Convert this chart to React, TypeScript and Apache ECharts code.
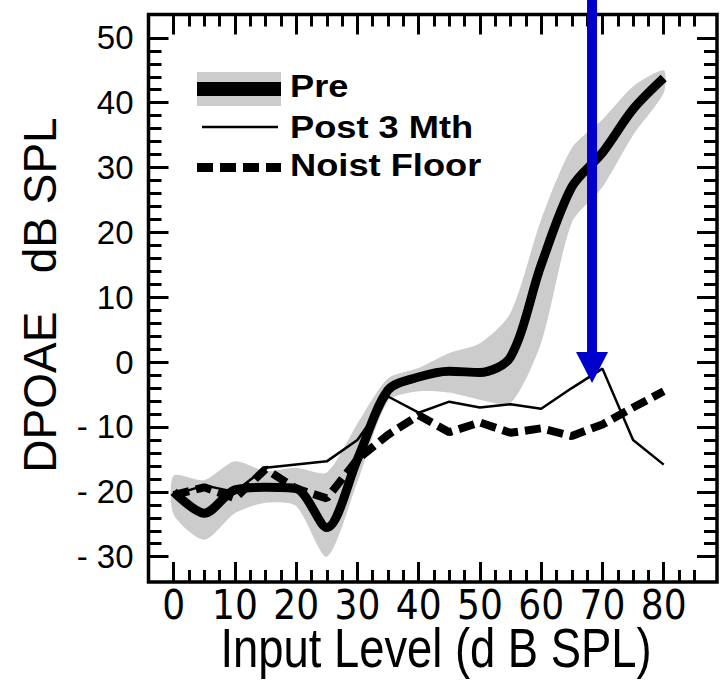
import React, { useEffect, useRef } from "react";
import * as echarts from "echarts";

// ---- data ----
const inputLevels = [0, 5, 10, 15, 20, 25, 30, 35, 40, 45, 50, 55, 60, 65, 70, 75, 80];
const preMean = [-20, -23.3, -19.7, -19.3, -19.5, -25.5, -15, -4.3, -2.3, -1.4, -1.6, 0.8, 15, 27, 32.3, 39, 43.8];
const preLow = [-23.5, -27.4, -23.3, -21.7, -22.2, -30, -18.5, -6, -4.5, -4.7, -5.8, -6.3, 3, 21.5, 27, 35, 41.5];
const preHigh = [-17.5, -18.2, -15.3, -16.8, -16.3, -17, -9.5, -2.5, -0.9, 1.4, 2.9, 7.6, 22, 33, 37.4, 42.5, 45];
const post3Mth = [-20.5, -19, -20, -16.3, -15.8, -15.3, -12, -5.3, -7.8, -6.1, -7, -6.5, -7.2, -4, -1, -12, -15.8];
const noiseFloor = [-20.5, -19.3, -21, -16.5, -19.5, -21, -15, -11.2, -8.2, -10.8, -9.3, -10.9, -10.2, -11.4, -9.6, -7, -4.5];

const xTickLabels = [0, 10, 20, 30, 40, 50, 60, 70, 80];
const yTickLabels = [-30, -20, -10, 0, 10, 20, 30, 40, 50];
const xMinorTicks = [2.5, 5, 7.5, 12.5, 15, 17.5, 22.5, 25, 27.5, 32.5, 35, 37.5, 42.5, 45, 47.5, 52.5, 55, 57.5, 62.5, 65, 67.5, 72.5, 75, 77.5, 82.5, 85];
const yMinorTicks = [-28, -26, -24, -22, -18, -16, -14, -12, -8, -6, -4, -2, 2, 4, 6, 8, 12, 14, 16, 18, 22, 24, 26, 28, 32, 34, 36, 38, 42, 44, 46, 48];

const legendNames = ["Pre", "Post 3 Mth", "Noist Floor"];
const xTitle = "Input Level (d B SPL)";
const yTitle = "DPOAE   dB SPL";

const ARROW_X = 68.3;
const ARROW_TIP_Y = -3.2;

const X_MIN = -4.1, X_MAX = 88.7, Y_MIN = -33.9, Y_MAX = 53.6;

const GRAY = "#cccccc";
const BLUE = "#0000cc";

function xAx(position: string, ticks: number[], len: number, labels?: number[]) {
  return {
    type: "value", min: X_MIN, max: X_MAX, position,
    axisLine: { show: false, onZero: false },
    splitLine: { show: false },
    axisTick: { show: true, inside: true, length: len, customValues: ticks, lineStyle: { color: "#000", width: 3 } },
    axisLabel: labels
      ? {
          show: true, customValues: labels, margin: 3, color: "#000", fontSize: 40,
          fontFamily: "'Liberation Sans Narrow', 'DejaVu Sans Condensed', 'Liberation Sans', sans-serif",
        }
      : { show: false },
  };
}
function yAx(position: string, ticks: number[], len: number, labels?: number[]) {
  return {
    type: "value", min: Y_MIN, max: Y_MAX, position,
    axisLine: { show: false, onZero: false },
    splitLine: { show: false },
    axisTick: { show: true, inside: true, length: len, customValues: ticks, lineStyle: { color: "#000", width: 3 } },
    axisLabel: labels
      ? {
          show: true, customValues: labels, margin: 15, color: "#000", fontSize: 33,
          fontFamily: "'Liberation Sans', Arial, sans-serif",
          formatter: (v: number) => (v < 0 ? `- ${-v}` : `${v}`),
        }
      : { show: false },
  };
}

const pts = (ys: number[]) => inputLevels.map((x, i) => [x, ys[i]]);

export default function App() {
  const ref = useRef<HTMLDivElement>(null);
  useEffect(() => {
    document.body.style.margin = "0";
    const chart = echarts.init(ref.current!, null, { renderer: "svg", width: 723, height: 685 });
    const option: any = {
      animation: false,
      backgroundColor: "#fff",
      grid: { left: 148.5, right: 6, top: 14.5, bottom: 103, show: true, borderColor: "#000", borderWidth: 3.5, backgroundColor: "transparent" },
      xAxis: [
        xAx("bottom", xTickLabels, 20, xTickLabels),
        xAx("bottom", xMinorTicks, 12),
        xAx("top", xTickLabels, 20),
        xAx("top", xMinorTicks, 12),
      ],
      yAxis: [
        yAx("left", yTickLabels, 20, yTickLabels),
        yAx("left", yMinorTicks, 13),
        yAx("right", yTickLabels, 20),
        yAx("right", yMinorTicks, 13),
      ],
      series: [
        {
          type: "custom", name: "Pre SD", data: [[inputLevels[0], preLow[0]]], silent: true, z: 1,
          renderItem: (_params: any, api: any) => {
            const upper = inputLevels.map((x, i) => api.coord([x, preHigh[i]]));
            const lower = inputLevels.map((x, i) => api.coord([x, preLow[i]])).reverse();
            return {
              type: "polygon",
              shape: { points: upper.concat(lower), smooth: 0.25 },
              style: { fill: GRAY },
            };
          },
        },
        {
          type: "line", name: legendNames[1], data: pts(post3Mth), symbol: "none",
          lineStyle: { color: "#000", width: 2.5 }, z: 3,
        },
        {
          type: "line", name: legendNames[2], data: pts(noiseFloor), symbol: "none",
          lineStyle: { color: "#000", width: 8, type: [16, 7], cap: "butt" }, z: 3,
        },
        {
          type: "line", name: legendNames[0], data: pts(preMean), symbol: "none", smooth: 0.3,
          lineStyle: { color: "#000", width: 9 }, z: 4,
        },
      ],
    };
    chart.setOption(option);

    const [ax, ay] = chart.convertToPixel({ seriesIndex: 3 }, [ARROW_X, ARROW_TIP_Y]) as number[];
    const headH = 31, headW = 32, shaftW = 10;
    const legendFont = "bold 31px 'Liberation Sans', Arial, sans-serif";
    const txt = (text: string, x: number, y: number) => ({
      type: "text", x, y, z: 100, scaleX: 1.17,
      style: { text, font: legendFont, fill: "#000", textAlign: "left", textVerticalAlign: "middle", align: "left", verticalAlign: "middle" },
    });
    chart.setOption({
      graphic: [
        { type: "rect", z: 100, shape: { x: 197, y: 72, width: 84, height: 34 }, style: { fill: GRAY } },
        { type: "rect", z: 101, shape: { x: 197, y: 82, width: 84, height: 14 }, style: { fill: "#000" } },
        txt(legendNames[0], 290, 86),
        { type: "line", z: 100, shape: { x1: 202, y1: 127, x2: 278, y2: 127 }, style: { stroke: "#000", lineWidth: 2.5 } },
        txt(legendNames[1], 290, 127),
        { type: "line", z: 100, shape: { x1: 197, y1: 167.5, x2: 281, y2: 167.5 }, style: { stroke: "#000", lineWidth: 9, lineDash: [16, 7] } },
        txt(legendNames[2], 290, 165),
        {
          type: "text", x: 40, y: 295, rotation: Math.PI / 2, z: 100,
          style: { text: yTitle, font: "46px 'Liberation Sans', Arial, sans-serif", fill: "#000", textAlign: "center", textVerticalAlign: "middle", align: "center", verticalAlign: "middle" },
        },
        {
          type: "text", x: 436, y: 648, scaleX: 0.81, z: 100,
          style: { text: xTitle, font: "56px 'Liberation Sans', Arial, sans-serif", fill: "#000", textAlign: "center", textVerticalAlign: "middle", align: "center", verticalAlign: "middle" },
        },
        { type: "rect", z: 110, shape: { x: ax - shaftW / 2, y: 0, width: shaftW, height: ay - headH + 1 }, style: { fill: BLUE } },
        { type: "polygon", z: 110, shape: { points: [[ax - headW / 2, ay - headH], [ax + headW / 2, ay - headH], [ax, ay]] }, style: { fill: BLUE } },
      ],
    });
    return () => chart.dispose();
  }, []);
  return <div ref={ref} style={{ width: 723, height: 685 }} />;
}
